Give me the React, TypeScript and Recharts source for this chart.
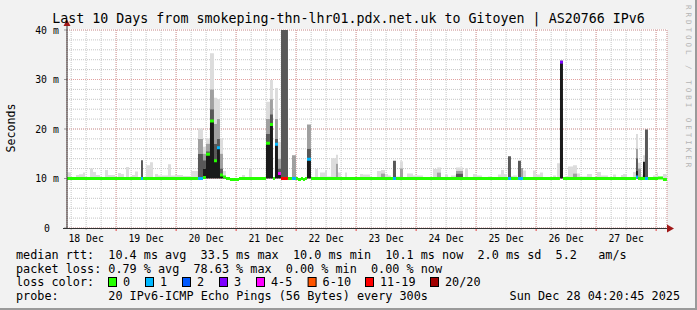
import React from 'react'
import { ComposedChart, Area, XAxis, YAxis, CartesianGrid } from 'recharts'

// sample start, hours since 18 Dec 00:00; each sample holds until the next one
const hours = [
  4.35, 5.95, 7.95, 9.15, 10.75, 11.55, 13.55, 14.75, 15.95, 17.55,
  19.55, 20.75, 23.55, 24.75, 25.95, 27.15, 27.95, 29.15, 30.35, 31.55,
  32.75, 33.95, 34.75, 35.95, 37.55, 38.75, 39.55, 40.75, 44.75, 45.95,
  47.55, 50.75, 53.95, 56.75, 58.75, 59.95, 61.55, 63.15, 64.35, 65.55,
  66.75, 67.95, 69.55, 73.15, 74.35, 75.55, 77.15, 78.35, 83.95, 85.55,
  86.75, 87.55, 88.75, 89.95, 92.75, 94.35, 95.95, 96.75, 97.95, 98.75,
  99.55, 100.35, 101.95, 103.55, 104.75, 105.55, 107.55, 108.35, 109.95, 111.95,
  112.75, 113.95, 115.55, 116.35, 121.55, 122.75, 125.55, 128.35, 129.95, 131.55,
  132.75, 133.95, 134.75, 135.95, 137.55, 138.75, 140.35, 142.75, 146.75, 150.75,
  152.35, 153.95, 155.55, 156.75, 157.95, 159.95, 162.75, 163.55, 164.75, 166.75,
  168.35, 170.35, 172.75, 174.35, 176.75, 177.95, 179.15, 180.35, 180.75, 181.95,
  182.75, 184.35, 184.75, 185.95, 186.75, 187.95, 190.75, 191.95, 193.55, 194.75,
  198.75, 199.95, 200.35, 201.55, 202.75, 203.95, 204.75, 206.75, 208.35, 209.55,
  212.35, 214.35, 216.35, 217.95, 220.75, 222.75, 223.95, 225.95, 226.75, 228.35,
  230.75, 231.95, 232.75, 233.95, 234.75, 235.55, 236.75, 238.75, 240.35, 240.75,
  242.75,
]

// median rtt, ms
const median = [
  10, 10, 10, 10, 10, 10, 10, 10, 10, 10,
  10, 10, 10, 10, 10, 10, 10, 10, 10, 10,
  10, 10, 10, 10, 10, 10, 10, 10, 10, 10,
  10, 10, 10, 10, 10.2, 14.9, 21.6, 13.6, 16.2, 10.7,
  10.3, 10, 9.8, 10, 10, 10, 10, 10, 17.1, 20.9,
  10, 16.9, 11.0, 10, 10, 10, 10, 9.8, 10, 9.8,
  10, 13.9, 10, 10, 10, 10, 10, 10, 10, 10,
  10, 10, 10, 10, 10, 10, 10, 10, 10, 10,
  10, 10, 10, 10, 10, 10, 10, 10, 10, 10,
  10, 10, 10, 10, 10, 10, 10, 10, 10, 10,
  10, 10, 10, 10, 10, 10, 10, 10, 10, 10,
  10, 10, 10, 10, 10, 10, 10, 10, 10, 10,
  10, 10, 10, 33.5, 10, 10, 10, 10, 10, 10,
  10, 10, 10, 10, 10, 10, 10, 10, 10, 10,
  10, 10.3, 10, 10, 10, 10, 10, 10, 10, 10.1,
  9.8,
]

// index into lossLabels / lossColors
const lossClass = [
  0, 0, 0, 0, 0, 0, 0, 0, 0, 0,
  0, 0, 0, 0, 0, 0, 0, 0, 0, 0,
  0, 1, 0, 0, 0, 0, 0, 0, 0, 0,
  0, 0, 0, 1, 0, 0, 0, 0, 1, 0,
  0, 0, 0, 0, 0, 0, 0, 0, 0, 0,
  0, 1, 4, 6, 0, 1, 0, 0, 0, 0,
  0, 1, 0, 0, 0, 0, 0, 0, 0, 0,
  0, 0, 0, 0, 0, 0, 0, 0, 0, 0,
  0, 0, 1, 0, 0, 0, 0, 0, 0, 0,
  0, 0, 0, 0, 0, 0, 0, 0, 0, 0,
  0, 0, 0, 0, 0, 0, 0, 0, 1, 0,
  0, 0, 1, 1, 0, 0, 0, 0, 0, 0,
  0, 0, 0, 3, 0, 0, 0, 0, 0, 0,
  0, 0, 0, 0, 0, 0, 0, 0, 0, 0,
  0, 1, 0, 0, 0, 1, 0, 0, 0, 0,
  0,
]

// smoke: darkest band from the floor up to inkTop, then dim, ash and mist
const inkTop = [
  10, 10, 10, 10, 10, 10, 10, 10, 10, 10,
  10, 10, 10, 10, 10, 10, 10, 10, 10, 10,
  10, 10, 10, 10, 10, 10, 10, 10, 10, 10,
  10, 10, 10, 10, 12, 14.9, 21.6, 13.6, 16.2, 10.7,
  10.3, 10, 10, 10, 10, 10, 10, 10, 17.1, 20.9,
  10, 16.9, 11, 10, 10, 10, 10, 10, 10, 10,
  10, 13.9, 10, 10, 10, 10, 10, 10, 10, 10,
  10, 10, 10, 10, 10, 10, 10, 10, 10, 10,
  10, 10, 10, 10, 10, 10, 10, 10, 10, 10,
  10, 10, 10, 10, 10, 10, 10, 10, 10, 10,
  10, 10, 10, 10, 10, 10, 10, 10, 10, 10,
  10, 10, 10, 10, 10, 10, 10, 10, 10, 10,
  10, 10, 10, 33.8, 10, 10, 10, 10, 10, 10,
  10, 10, 10, 10, 10, 10, 10, 10, 10, 10,
  10, 11.5, 10, 10, 13.4, 10, 10, 10, 10, 10,
  10,
]

const dimTop = [
  10, 10, 10, 10, 10, 10, 10, 10, 10, 10,
  10, 10, 10, 10, 10, 10, 10, 10, 10, 10,
  10, 13.7, 10, 10, 10, 10, 10, 10, 10, 10,
  10, 10, 10, 15, 13.7, 15.5, 24, 17, 18, 12,
  10.3, 10, 10, 10, 10, 10, 10, 10, 19, 23,
  10, 18, 12, 45, 10, 10, 10, 10, 10, 10,
  10, 16, 10, 10, 10, 10, 10, 10, 10, 10,
  10, 10, 10, 10, 10, 10, 10, 10, 10, 10,
  10, 10, 13.6, 10, 10, 10, 10, 10, 10, 10,
  10, 10, 10, 10, 10, 11, 10, 10, 10, 10,
  10, 10, 10, 10, 10, 10, 10, 10, 14.5, 10,
  10, 10, 13.6, 10, 10, 10, 10, 10, 10, 10,
  10, 10, 10, 33.8, 10, 10, 10, 10, 10, 10,
  10, 10, 10, 10, 10, 10, 10, 10, 10, 10,
  10, 14.1, 10, 10, 13.4, 19.9, 10, 10, 10, 10,
  10,
]

const ashTop = [
  10, 10, 10, 10, 10, 10, 10, 10, 10, 10,
  10, 10, 10, 10, 10, 10, 10, 10, 10, 10,
  10, 13.7, 10, 10, 10, 10, 10, 10, 10, 10,
  10, 10, 10, 18, 15, 17, 28, 21, 22, 15,
  10.3, 10, 10, 10, 10, 10, 10, 10, 22, 26,
  10, 22, 14, 45, 10, 14.7, 10, 10, 10, 10,
  10, 20.9, 10, 10, 10, 10, 10, 10, 10, 13,
  10, 10, 10, 10, 10, 10, 10, 10, 11, 10,
  10, 10, 13.6, 10, 12, 10, 10, 10, 10, 10,
  11.2, 10, 10, 10, 10, 11.5, 10, 10, 10, 10,
  10, 10, 10, 10, 10, 10, 10, 10, 14.5, 10,
  10, 10, 13.6, 12.1, 10, 10, 10, 10, 10, 10,
  10, 10, 10, 33.8, 10, 10, 10, 11, 10, 10,
  10, 10, 10, 10, 10, 10, 10, 10, 10, 10,
  10, 16, 12, 10, 13.4, 19.9, 10, 10, 10, 10,
  10,
]

const mistTop = [
  11.25, 10, 10.7, 10.85, 11.2, 10, 12.0, 11.3, 10.7, 10,
  11.7, 10.7, 10, 11.1, 10.9, 10, 12.3, 10, 10.7, 11.4,
  10, 13.7, 10, 12.7, 13.3, 10, 10.9, 10.6, 12.9, 10.6,
  10.7, 10.5, 11.5, 20.1, 16.4, 18.1, 35.3, 26.3, 26, 18.2,
  11.5, 10, 10, 10, 10.7, 10, 12.0, 10, 25.5, 29.9,
  10, 28.3, 17.4, 45, 10, 14.7, 10, 10, 10, 10,
  10, 20.9, 10, 11.9, 10, 11.2, 11.6, 10.4, 14.1, 14.8,
  11.2, 10.3, 11.2, 10.3, 10.9, 10.8, 10.3, 11.5, 11.7, 10.9,
  10.6, 10, 13.6, 10.4, 13.5, 10, 11.0, 10.6, 10, 11.9,
  12.2, 10, 10.8, 10, 10.6, 12.2, 10, 12.1, 10, 10.9,
  10.6, 10, 10.4, 10, 10.8, 11.7, 10.9, 10, 14.5, 10.5,
  10.6, 10, 13.6, 12.1, 11.6, 10, 11.6, 10.8, 11.2, 10,
  10.6, 10, 13.1, 33.8, 10, 10.5, 12.4, 12.7, 11.0, 10.4,
  10.9, 10.3, 11.3, 10.6, 10, 10.8, 10, 10.7, 10.9, 10,
  11.3, 19, 13.2, 10.6, 14.7, 19.9, 10, 10.6, 11.2, 10,
  10.9,
]

const smokeFloor = 10
const startHour = 4.35
const endHour = 244.35

const labelHours = [12, 36, 60, 84, 108, 132, 156, 180, 204, 228]
const dayLabels = ['18 Dec', '19 Dec', '20 Dec', '21 Dec', '22 Dec', '23 Dec', '24 Dec', '25 Dec', '26 Dec', '27 Dec']
const yTicks = [0, 10, 20, 30, 40]

const lossLabels = ['0', '1', '2', '3', '4-5', '6-10', '11-19', '20/20']
const lossColors = ['#26ff00', '#00b8ff', '#0059ff', '#7e00ff', '#ff00ff', '#ff5500', '#ff0000', '#a10000']

const W = 697
const H = 310
const mono = '"DejaVu Sans Mono", monospace'
const HALF = 0.3 // half height of the median band, ms
const CH = 7.1 // legend character advance

// step table: every sample is drawn flat until the next one starts
const rows: any[] = []
hours.forEach((h, i) => {
  const until = i < hours.length - 1 ? hours[i + 1] : endHour
  const row: any = {
    ink: [smokeFloor, inkTop[i]],
    dim: [inkTop[i], dimTop[i]],
    ash: [dimTop[i], ashTop[i]],
    mist: [ashTop[i], mistTop[i]],
  }
  lossColors.forEach((_, k) => {
    row['m' + k] = lossClass[i] === k ? [median[i] - HALF, median[i] + HALF] : null
  })
  rows.push({ t: h, ...row }, { t: until - 0.02, ...row })
})

const sixHourTicks: number[] = []
for (let h = 6; h < endHour; h += 6) if (h > startHour) sixHourTicks.push(h)
const midnightTicks = sixHourTicks.filter(h => h % 24 === 0)
const minorYTicks: number[] = []
for (let v = 0; v <= 40; v += 2) minorYTicks.push(v)

const TimeTick = (props: any) => {
  const { x, y, payload } = props
  const h = payload.value
  const k = labelHours.indexOf(h)
  return (
    <g>
      <line x1={x} x2={x} y1={y} y2={y + (h % 24 === 0 ? 3 : 2)} stroke={h % 24 === 0 ? '#e04040' : '#b0b0b0'} />
      {k >= 0 && (
        <text x={x} y={y + 13.5} textAnchor="middle" fontSize={9.8} fontFamily={mono} fill="#000">
          {dayLabels[k]}
        </text>
      )}
    </g>
  )
}

const ValueTick = (props: any) => {
  const { x, y, payload } = props
  if (!yTicks.includes(payload.value)) return <g />
  return (
    <g>
      <line x1={x - 3} x2={x} y1={y} y2={y} stroke="#999" />
      <text x={x - 20} y={y + 3.5} textAnchor="middle" fontSize={9.8} fontFamily={mono} fill="#000">
        {payload.value === 0 ? '0' : `${payload.value} m`}
      </text>
    </g>
  )
}

const NoTick = () => <g />

const smokeBands = [
  { key: 'mist', color: '#dcdcdc' },
  { key: 'ash', color: '#a0a0a0' },
  { key: 'dim', color: '#585858' },
  { key: 'ink', color: '#1a1a1a' },
]

const row1: [number, string][] = [
  [0, 'median rtt:'], [13, '10.4 ms avg'], [26, '33.5 ms max'], [39, '10.0 ms min'],
  [52, '10.1 ms now'], [65, '2.0 ms sd'], [76, '5.2'], [82, 'am/s'],
]
const row2: [number, string][] = [
  [0, 'packet loss:'], [13, '0.79 % avg'], [25, '78.63 % max'], [38, '0.00 % min'], [50, '0.00 % now'],
]
const swatchX = [108, 145, 182, 219, 256, 307.6, 365, 430]

const Legend = () => (
  <g fontFamily={mono} fontSize={11.8} fill="#000">
    {row1.map(([c, s]) => <text key={'a' + c} x={16 + c * CH} y={259}>{s}</text>)}
    {row2.map(([c, s]) => <text key={'b' + c} x={16 + c * CH} y={273}>{s}</text>)}
    <text x={16} y={286}>loss color:</text>
    {lossLabels.map((l, k) => (
      <g key={l}>
        <rect x={swatchX[k] + 0.5} y={277.5} width={8} height={9} fill={lossColors[k]} stroke="#000" />
        <text x={swatchX[k] + 15} y={286}>{l}</text>
      </g>
    ))}
    <text x={16} y={300}>probe:</text>
    <text x={16 + 13 * CH} y={300}>20 IPv6-ICMP Echo Pings (56 Bytes) every 300s</text>
    <text x={680} y={300} textAnchor="end">Sun Dec 28 04:20:45 2025</text>
  </g>
)

const layer: React.CSSProperties = { position: 'absolute', left: 0, top: 0 }

export default function App() {
  return (
    <div style={{ position: 'absolute', left: 0, top: 0, width: W, height: H }}>
      <svg width={W} height={H} style={layer}>
        <rect x={0} y={0} width={W} height={H} fill="#f2f2f2" />
        <rect x={67} y={29} width={600} height={199} fill="#ffffff" />
        <line x1={W - 1} x2={W - 1} y1={0} y2={H} stroke="#9a9a9a" strokeWidth={2} />
        <line x1={0} x2={W} y1={H - 1} y2={H - 1} stroke="#9a9a9a" strokeWidth={2} />
      </svg>

      {/* minor grid, tick marks and axis labels */}
      <div style={layer}>
        <ComposedChart width={W} height={H} data={rows} margin={{ top: 30, right: 30, bottom: 81, left: 66 }}>
          <XAxis dataKey="t" type="number" domain={[startHour, endHour]} allowDataOverflow
            ticks={sixHourTicks} interval={0} height={1} axisLine={false} tickLine={false}
            tickSize={0} tickMargin={0} tick={TimeTick} />
          <YAxis type="number" domain={[0, 40]} allowDataOverflow ticks={minorYTicks} interval={0}
            width={1} axisLine={false} tickLine={false} tickSize={0} tickMargin={0} tick={ValueTick} />
          <CartesianGrid stroke="#c4c4c4" strokeDasharray="1 1" />
          <Area dataKey="mist" type="linear" stroke="none" fill="none" isAnimationActive={false} />
        </ComposedChart>
      </div>

      {/* major grid, smoke and median */}
      <div style={layer}>
        <ComposedChart width={W} height={H} data={rows} margin={{ top: 30, right: 30, bottom: 82, left: 67 }}>
          <XAxis dataKey="t" type="number" domain={[startHour, endHour]} allowDataOverflow
            ticks={midnightTicks} interval={0} height={0} axisLine={false} tickLine={false} tick={NoTick} />
          <YAxis type="number" domain={[0, 40]} allowDataOverflow ticks={yTicks} interval={0}
            width={0} axisLine={false} tickLine={false} tick={NoTick} />
          <CartesianGrid stroke="#e2a0a0" strokeDasharray="1 1" />
          {smokeBands.map(b => (
            <Area key={b.key} dataKey={b.key} type="linear" stroke="none"
              fill={b.color} fillOpacity={1} dot={false} activeDot={false} isAnimationActive={false} />
          ))}
          {lossColors.map((c, k) => (
            <Area key={'m' + k} dataKey={'m' + k} type="linear" stroke="none"
              fill={c} fillOpacity={1} dot={false} activeDot={false} isAnimationActive={false} />
          ))}
        </ComposedChart>
      </div>

      <svg width={W} height={H} style={{ ...layer, pointerEvents: 'none' }}>
        <line x1={67} x2={67} y1={228} y2={24} stroke="#333" />
        <line x1={63} x2={668} y1={228.5} y2={228.5} stroke="#333" />
        <polygon points="63.5,26 70.5,26 67,19.5" fill="#a01818" />
        <polygon points="667,224.5 667,232.5 674,228.5" fill="#a01818" />
        <text x={348.5} y={23} textAnchor="middle" fontFamily={mono} fontSize={13.3} fill="#000">
          Last 10 Days from smokeping-thn-lhr01.pdx.net.uk to Gitoyen | AS20766 IPv6
        </text>
        <text transform="translate(15,128) rotate(-90)" textAnchor="middle" fontFamily={mono} fontSize={11.6} fill="#000">
          Seconds
        </text>
        <text transform="translate(686,5) rotate(90)" fontFamily={mono} fontSize={7.5} letterSpacing={3} fill="#b4b4b4">
          RRDTOOL / TOBI OETIKER
        </text>
        <Legend />
      </svg>
    </div>
  )
}
